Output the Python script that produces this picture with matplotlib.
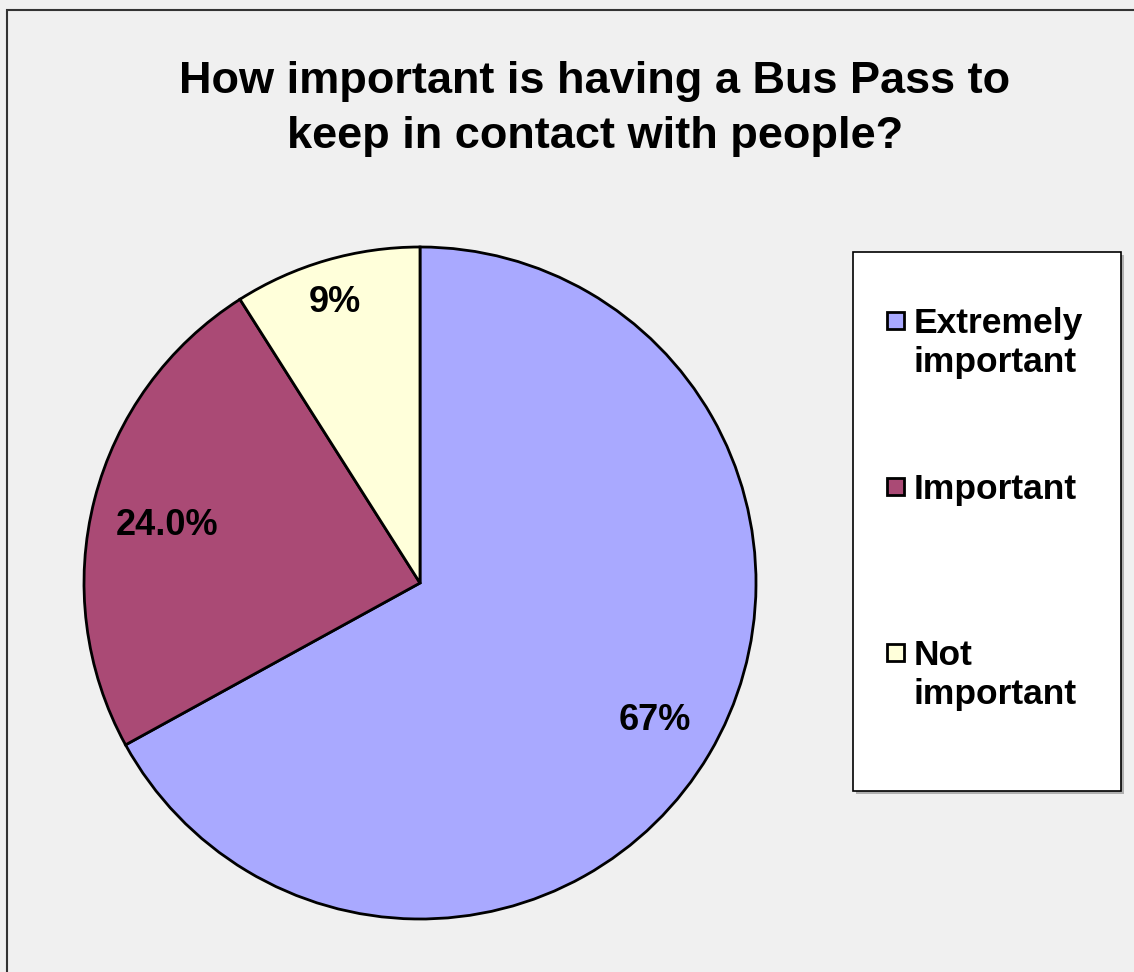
import numpy as np
import matplotlib
matplotlib.use("Agg")
import matplotlib.pyplot as plt
from matplotlib.patches import Rectangle

categories = ["Extremely\nimportant", "Important", "Not\nimportant"]
values = [67, 24, 9]
value_labels = ["67%", "24.0%", "9%"]
colors = ["#A9A9FF", "#AA4A75", "#FFFFDA"]

title = "How important is having a Bus Pass to\nkeep in contact with people?"

plt.rcParams["font.family"] = ["Liberation Sans", "DejaVu Sans"]

W, H = 1134, 972
fig = plt.figure(figsize=(W / 100, H / 100), dpi=100, facecolor="#F0F0F0")


def fx(px):
    return px / W


def fy(py):
    return 1 - py / H


# outer chart border
fig.patches.append(Rectangle((fx(7), fy(1000)), fx(1200), 1000 / H - 9.5 / H,
                             transform=fig.transFigure, fill=False,
                             edgecolor="#333333", linewidth=1.5))

# title, one baseline per line
for i, line in enumerate(title.split("\n")):
    fig.text(fx(595), fy(93 + 55 * i), line, ha="center", va="baseline",
             fontsize=32.5, fontweight="bold")

# pie
cx, cy, r = 420, 583, 336
ax = fig.add_axes([fx(cx - r), fy(cy + r), 2 * r / W, 2 * r / H])
wedges, _ = ax.pie(values, colors=colors, startangle=90, counterclock=False,
                   radius=1, wedgeprops=dict(edgecolor="black", linewidth=2))
ax.set_xlim(-1, 1)
ax.set_ylim(-1, 1)
ax.set_aspect("equal")
ax.axis("off")

# label placement: distance from centre and small angle nudge off the mid-angle
label_dist = [0.81, 0.771, 0.871]
label_nudge = [0.3, 1.6, 0.7]
for w, lab, d, nd in zip(wedges, value_labels, label_dist, label_nudge):
    ang = np.deg2rad((w.theta1 + w.theta2) / 2 + nd)
    ax.text(d * np.cos(ang), d * np.sin(ang), lab, ha="center", va="center",
            fontsize=26, fontweight="bold")

# legend box
fig.patches.append(Rectangle((fx(856), fy(794)), fx(268), 539 / H,
                             transform=fig.transFigure, facecolor="#B0B0B0",
                             edgecolor="none"))
fig.patches.append(Rectangle((fx(853), fy(791)), fx(268), 539 / H,
                             transform=fig.transFigure, facecolor="white",
                             edgecolor="black", linewidth=1.2))

entry_base = [333, 499, 665]
for name, col, base in zip(categories, colors, entry_base):
    fig.patches.append(Rectangle((fx(887), fy(base - 4)), fx(17), 17 / H,
                                 transform=fig.transFigure, facecolor=col,
                                 edgecolor="black", linewidth=2))
    for j, line in enumerate(name.split("\n")):
        fig.text(fx(914), fy(base + 39 * j), line, ha="left", va="baseline",
                 fontsize=25.5, fontweight="bold")

fig.savefig("out.png", dpi=100, facecolor=fig.get_facecolor())
